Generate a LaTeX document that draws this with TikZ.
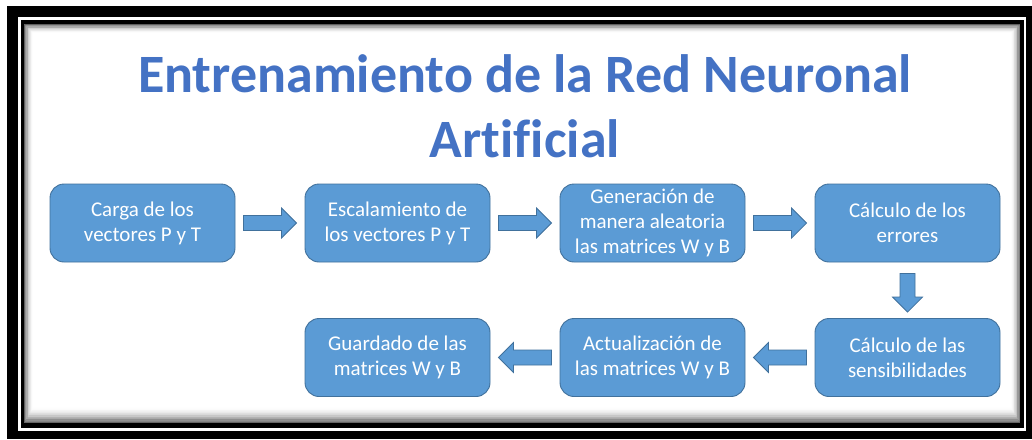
\documentclass[tikz,border=0pt]{standalone}
\usepackage{fontspec}
\setmainfont[Ligatures=NoCommon]{Carlito}
\usetikzlibrary{calc}
\definecolor{boxblue}{HTML}{5B9BD5}
\definecolor{boxedge}{HTML}{41719C}
\definecolor{titleblue}{HTML}{4472C4}
\tikzset{
  stepbox/.style={draw=boxedge, line width=0.9pt, fill=boxblue, rounded corners=14pt,
    minimum width=185pt, minimum height=78pt, text=white, align=center,
    font=\fontsize{21}{25}\selectfont, inner sep=0pt},
  blockarrow/.style={draw=boxedge, line width=0.8pt, fill=boxblue, to path={
    ($(\tikztostart)!7.5pt!90:(\tikztotarget)$)
    -- ($($(\tikztotarget)!15pt!(\tikztostart)$)!7.5pt!90:(\tikztotarget)$)
    -- ($($(\tikztotarget)!15pt!(\tikztostart)$)!15pt!90:(\tikztotarget)$)
    -- (\tikztotarget)
    -- ($($(\tikztotarget)!15pt!(\tikztostart)$)!15pt!-90:(\tikztotarget)$)
    -- ($($(\tikztotarget)!15pt!(\tikztostart)$)!7.5pt!-90:(\tikztotarget)$)
    -- ($(\tikztostart)!7.5pt!-90:(\tikztotarget)$) -- cycle}},
  titletext/.style={font=\fontsize{54}{65}\bfseries\selectfont, anchor=base, inner sep=0pt, text=titleblue}
}
\begin{document}
\begin{tikzpicture}[x=1pt,y=-1pt]
\useasboundingbox (0,0) rectangle (1032,439);
% frame
\fill[white] (0,0) rectangle (1032,439);
\fill[black] (7,6) rectangle (1032,439);
\fill[white] (18,17) rectangle (1026,431);
\fill[black] (21,20) rectangle (1024,428);
\fill[white] (24,24) rectangle (1020,423);
\foreach \i in {0,...,11}{
  \pgfmathsetmacro\op{0.6*(1-\i/12)^2}
  \fill[black, opacity=\op, even odd rule]
    (24+0.75*\i,24+0.75*\i) rectangle (1020-0.75*\i, 423-1.3*\i)
    (24.75+0.75*\i,24.75+0.75*\i) rectangle (1019.25-0.75*\i, 421.7-1.3*\i);
}
% title
\node[titletext] (t1) at (525,92) {Entrenamiento de la Red Neuronal};
\node[titletext] (t2) at (525,157) {Artificial};
% boxes
\node[stepbox] (b1) at (142.5,223) {Carga de los\\vectores P y T};
\node[stepbox] (b2) at (397.5,223) {Escalamiento de\\los vectores P y T};
\node[stepbox] (b3) at (652.5,223) {Generación de\\manera aleatoria\\las matrices W y B};
\node[stepbox] (b4) at (907.5,223) {Cálculo de los\\errores};
\node[stepbox] (b5) at (907.5,357.5) {Cálculo de las\\sensibilidades};
\node[stepbox] (b6) at (652.5,357.5) {Actualización de\\las matrices W y B};
\node[stepbox] (b7) at (397.5,357.5) {Guardado de las\\matrices W y B};
% arrow end points
\coordinate (a1s) at ($(b1.east)+(8,0)$);
\coordinate (a1e) at ($(b2.west)+(-8,0)$);
\coordinate (a2s) at ($(b2.east)+(8,0)$);
\coordinate (a2e) at ($(b3.west)+(-8,0)$);
\coordinate (a3s) at ($(b3.east)+(8,0)$);
\coordinate (a3e) at ($(b4.west)+(-8,0)$);
\coordinate (a4s) at ($(b4.south)+(0,11)$);
\coordinate (a4e) at ($(b5.north)+(0,-6)$);
\coordinate (a5s) at ($(b5.west)+(-8,0)$);
\coordinate (a5e) at ($(b6.east)+(8,0)$);
\coordinate (a6s) at ($(b6.west)+(-8,0)$);
\coordinate (a6e) at ($(b7.east)+(8,0)$);
\path[blockarrow] (a1s) to (a1e);
\path[blockarrow] (a2s) to (a2e);
\path[blockarrow] (a3s) to (a3e);
\path[blockarrow] (a4s) to (a4e);
\path[blockarrow] (a5s) to (a5e);
\path[blockarrow] (a6s) to (a6e);
\end{tikzpicture}
\end{document}
